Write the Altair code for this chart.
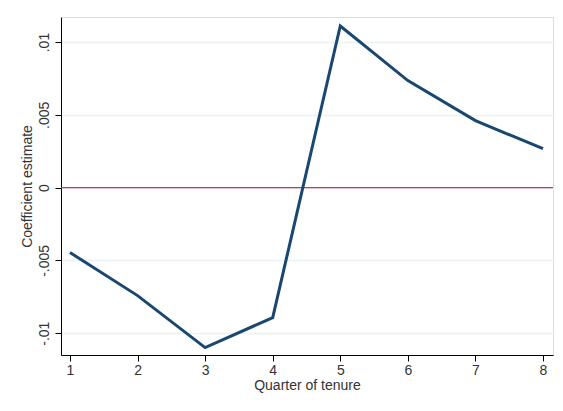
import altair as alt
import pandas as pd

quarters = [1, 2, 3, 4, 5, 6, 7, 8]
coef = [-0.00446, -0.00742, -0.01099, -0.00893, 0.01110, 0.00735, 0.00460, 0.00267]
y_ticks = [-0.01, -0.005, 0, 0.005, 0.01]
y_labels = ["-.01", "-.005", "0", ".005", ".01"]

df = pd.DataFrame({"q": quarters, "b": coef})
zero = pd.DataFrame({"z": [0]})

label_expr = " : ".join(
    f"abs(datum.value - ({v})) < 1e-9 ? '{l}'" for v, l in zip(y_ticks, y_labels)
) + " : ''"

font = "Liberation Sans"
txt = "#333333"

xscale = alt.Scale(domain=[0.867, 8.148], nice=False, zero=False)
yscale = alt.Scale(domain=[-0.0115, 0.01172], nice=False, zero=False)

line = alt.Chart(df).mark_line(color="#1a476f", strokeWidth=3, clip=True).encode(
    x=alt.X("q:Q", scale=xscale,
            axis=alt.Axis(values=quarters, title="Quarter of tenure", format="d",
                          grid=False, domainColor="#000000", tickColor="#000000",
                          tickSize=6, labelFontSize=14, titleFontSize=14,
                          titleFontWeight="normal",
                          labelColor=txt, titleColor=txt, labelFont=font, titleFont=font,
                          labelPadding=2, titlePadding=1, labelFlush=False)),
    y=alt.Y("b:Q", scale=yscale,
            axis=alt.Axis(values=y_ticks, labelExpr=label_expr, title="Coefficient estimate",
                          grid=True, gridColor="#eaf2f3", gridWidth=1.5,
                          domainColor="#000000", tickColor="#000000", tickSize=6,
                          labelAngle=270, labelAlign="center", labelBaseline="bottom",
                          labelFontSize=14, titleFontSize=14, titleFontWeight="normal",
                          labelColor=txt, titleColor=txt,
                          labelFont=font, titleFont=font, labelPadding=4, titlePadding=3)),
)

rule = alt.Chart(zero).mark_rule(color="#d0384e", strokeWidth=1.2).encode(
    y=alt.Y("z:Q", scale=yscale)
)

chart = alt.layer(rule, line).properties(
    width=492, height=338,
    autosize=alt.AutoSizeParams(type="none"),
    padding={"left": 53, "top": 9, "right": 2, "bottom": 48},
).configure_view(stroke=None).configure(background="#ffffff")

chart.save("out.html", embed_options={"renderer": "svg", "actions": False})
